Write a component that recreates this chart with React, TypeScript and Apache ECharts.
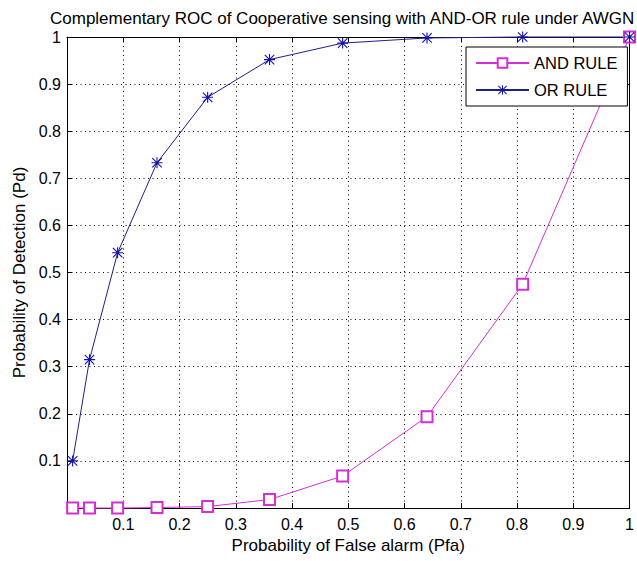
import React, { useEffect, useRef } from "react";
import * as echarts from "echarts";

const titleText = "Complementary ROC of Cooperative sensing with AND-OR rule under AWGN";
const xLabel = "Probability of False alarm (Pfa)";
const yLabel = "Probability of Detection (Pd)";
const seriesNames = ["AND RULE", "OR RULE"];
const pfa = [0.01, 0.04, 0.09, 0.16, 0.25, 0.36, 0.49, 0.64, 0.81, 1.0];
const pdAnd = [0, 0, 0, 0.001, 0.003, 0.018, 0.068, 0.194, 0.475, 1.0];
const pdOr = [0.1, 0.315, 0.542, 0.733, 0.872, 0.952, 0.987, 0.998, 1.0, 1.0];

const FONT = '"Liberation Sans", Arial, sans-serif';
const STAR =
  "path://M9 0 L11 0 L11 20 L9 20 Z M0 9 L20 9 L20 11 L0 11 Z M0.7 2.1 L2.1 0.7 L19.3 17.9 L17.9 19.3 Z M17.9 0.7 L19.3 2.1 L2.1 19.3 L0.7 17.9 Z";

const fmt = (v: number) => (Math.abs(v) < 1e-9 ? "" : String(Math.round(v * 10) / 10));

export default function App() {
  const ref = useRef<HTMLDivElement>(null);
  useEffect(() => {
    if (!ref.current) return;
    const chart = echarts.init(ref.current, null, { renderer: "svg" });
    const axisCommon = {
      type: "value" as const,
      min: 0,
      max: 1,
      interval: 0.1,
      axisLine: { show: true, onZero: false, lineStyle: { color: "#000", width: 1 } },
      axisTick: { show: true, inside: true, length: 5, lineStyle: { color: "#000" } },
    };
    chart.setOption({
      animation: false,
      backgroundColor: "#fff",
      title: {
        text: titleText,
        left: 50,
        top: 10,
        padding: 0,
        textStyle: { fontFamily: FONT, fontSize: 17, fontWeight: "normal", color: "#000" },
      },
      grid: { left: 67, right: 2, top: 37, bottom: 53, containLabel: false },
      legend: {
        orient: "vertical",
        left: 466,
        top: 47,
        padding: [7, 10, 7, 9],
        itemWidth: 53,
        itemHeight: 12,
        itemGap: 9,
        backgroundColor: "#fff",
        borderColor: "#000",
        borderWidth: 1,
        borderRadius: 0,
        textStyle: { fontFamily: FONT, fontSize: 16.5, color: "#000", lineHeight: 18 },
        data: seriesNames,
      },
      xAxis: [
        {
          ...axisCommon,
          position: "bottom",
          name: xLabel,
          nameLocation: "middle",
          nameGap: 21,
          nameTextStyle: { fontFamily: FONT, fontSize: 17, color: "#000" },
          axisLabel: { formatter: fmt, fontFamily: FONT, fontSize: 16, color: "#000", margin: 8 },
          splitLine: { show: true, lineStyle: { color: "#000", type: [1, 3.5], width: 1 } },
        },
        {
          ...axisCommon,
          position: "top",
          axisLabel: { show: false },
          splitLine: { show: false },
        },
      ],
      yAxis: [
        {
          ...axisCommon,
          position: "left",
          name: yLabel,
          nameLocation: "middle",
          nameGap: 38,
          nameTextStyle: { fontFamily: FONT, fontSize: 17, color: "#000" },
          axisLabel: { formatter: fmt, fontFamily: FONT, fontSize: 16, color: "#000", margin: 6 },
          splitLine: { show: true, lineStyle: { color: "#000", type: [1, 3.5], width: 1 } },
        },
        {
          ...axisCommon,
          position: "right",
          axisLabel: { show: false },
          splitLine: { show: false },
        },
      ],
      series: [
        {
          name: seriesNames[0],
          type: "line",
          data: pfa.map((x, i) => [x, pdAnd[i]]),
          symbol: "emptyRect",
          symbolSize: 11,
          clip: false,
          itemStyle: { color: "#d62ed6", borderWidth: 1 },
          lineStyle: { color: "#d62ed6", width: 1 },
          z: 3,
        },
        {
          name: seriesNames[1],
          type: "line",
          data: pfa.map((x, i) => [x, pdOr[i]]),
          symbol: STAR,
          symbolSize: 11,
          clip: false,
          itemStyle: { color: "#1010b0" },
          lineStyle: { color: "#202088", width: 1 },
          z: 3,
        },
      ],
    });
    return () => chart.dispose();
  }, []);
  return (
    <div
      ref={ref}
      style={{ position: "fixed", left: 0, top: 0, width: 637, height: 561, background: "#fff" }}
    />
  );
}
